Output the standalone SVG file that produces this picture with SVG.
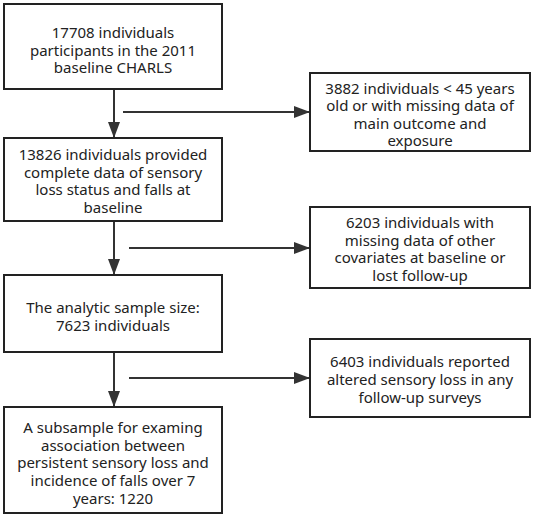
<svg xmlns="http://www.w3.org/2000/svg" width="536" height="521" viewBox="0 0 536 521">
<defs>
<style>
.box{fill:#fff;stroke:#222;stroke-width:2}
.t{font-family:"Noto Sans","DejaVu Sans",sans-serif;font-size:15px;fill:#222;text-anchor:middle}
.c{stroke:#333;stroke-width:2;fill:none}
</style>
<marker id="ah" viewBox="0 0 16 12" refX="16" refY="6" markerWidth="16" markerHeight="12" markerUnits="userSpaceOnUse" orient="auto">
<path d="M0,0 L16,6 L0,12 Z" fill="#333"/>
</marker>
</defs>
<rect width="536" height="521" fill="#fff"/>
<g id="connectors">
<line class="c" x1="114" y1="89" x2="114" y2="138" marker-end="url(#ah)"/>
<line class="c" x1="114" y1="221" x2="114" y2="275" marker-end="url(#ah)"/>
<line class="c" x1="114" y1="352" x2="114" y2="407" marker-end="url(#ah)"/>
<line class="c" x1="123" y1="112" x2="310" y2="112" marker-end="url(#ah)"/>
<line class="c" x1="129" y1="248" x2="310" y2="248" marker-end="url(#ah)"/>
<line class="c" x1="129" y1="378" x2="310" y2="378" marker-end="url(#ah)"/>
</g>
<g id="n1">
<rect class="box" x="4" y="4" width="218" height="85"/>
<text class="t" x="113" y="38">17708 individuals</text>
<text class="t" x="113" y="55.5">participants in the 2011</text>
<text class="t" x="113" y="73">baseline CHARLS</text>
</g>
<g id="n2">
<rect class="box" x="4" y="138" width="218" height="83"/>
<text class="t" x="113" y="160">13826 individuals provided</text>
<text class="t" x="113" y="177.7">complete data of sensory</text>
<text class="t" x="113" y="195.4">loss status and falls at</text>
<text class="t" x="113" y="213">baseline</text>
</g>
<g id="n3">
<rect class="box" x="4" y="275" width="218" height="77"/>
<text class="t" x="113" y="313">The analytic sample size:</text>
<text class="t" x="113" y="331">7623 individuals</text>
</g>
<g id="n4">
<rect class="box" x="4" y="407" width="218" height="106"/>
<text class="t" x="113" y="433">A subsample for examing</text>
<text class="t" x="113" y="450.7">association between</text>
<text class="t" x="113" y="468.4">persistent sensory loss and</text>
<text class="t" x="113" y="486">incidence of falls over 7</text>
<text class="t" x="113" y="503.5">years: 1220</text>
</g>
<g id="r1">
<rect class="box" x="310" y="73" width="220" height="78"/>
<text class="t" x="420" y="94">3882 individuals &lt; 45 years</text>
<text class="t" x="420" y="111">old or with missing data of</text>
<text class="t" x="420" y="128.5">main outcome and</text>
<text class="t" x="420" y="146">exposure</text>
</g>
<g id="r2">
<rect class="box" x="310" y="207" width="220" height="81"/>
<text class="t" x="420" y="228">6203 individuals with</text>
<text class="t" x="420" y="245.7">missing data of other</text>
<text class="t" x="420" y="263.4">covariates at baseline or</text>
<text class="t" x="420" y="281">lost follow-up</text>
</g>
<g id="r3">
<rect class="box" x="310" y="339" width="220" height="78"/>
<text class="t" x="420" y="367">6403 individuals reported</text>
<text class="t" x="420" y="385">altered sensory loss in any</text>
<text class="t" x="420" y="403">follow-up surveys</text>
</g>
</svg>
